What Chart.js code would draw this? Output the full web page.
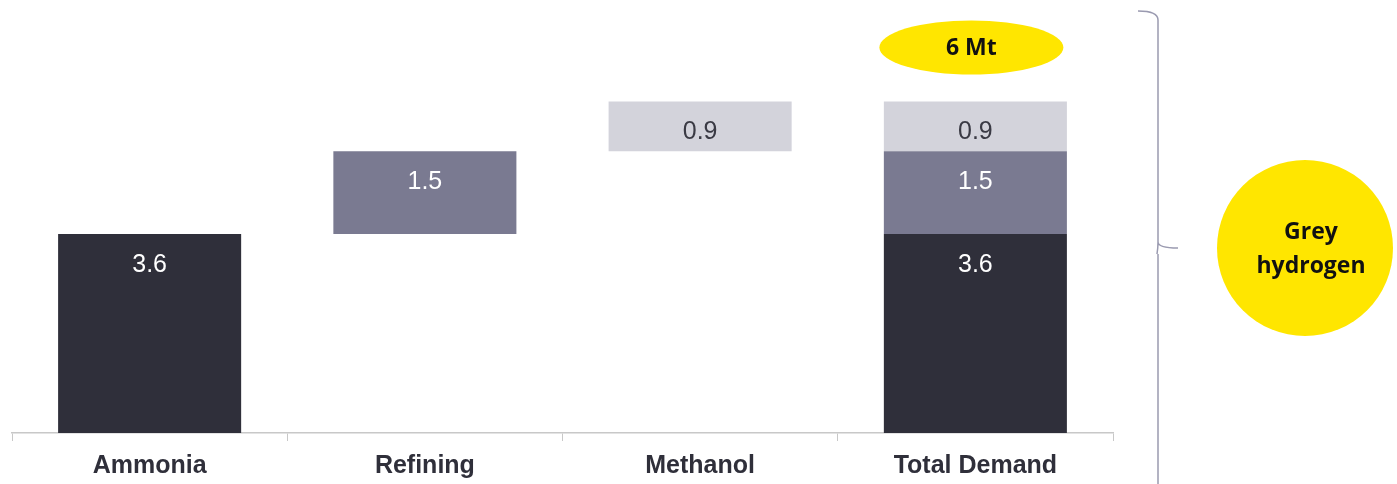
<!DOCTYPE html>
<html>
<head>
<meta charset="utf-8">
<script src="https://cdn.jsdelivr.net/npm/chart.js@4"></script>
<style>
  html, body { margin: 0; padding: 0; background: #ffffff; }
  #wrap { width: 1397px; height: 484px; position: relative; }
</style>
</head>
<body>
<div id="wrap"><canvas id="barChart" width="1397" height="484"></canvas></div>
<script>
// kategori sumbu x
const categories = ['Ammonia', 'Refining', 'Methanol', 'Total Demand'];
// nilai tiap sumber (Mt)
const sourceValues = [3.6, 1.5, 0.9];
const sourceColors = ['#2f2f3a', '#7a7a91', '#d3d3db'];
const labelColors = ['#ffffff', '#ffffff', '#3a3a44'];
const totalText = '6 Mt';
const bubbleLines = ['Grey', 'hydrogen'];

// bangun dataset waterfall: setiap sumber muncul di kolomnya sendiri dan di kolom total
let base = 0;
const datasets = sourceValues.map((value, i) => {
    const start = base;
    const end = +(base + value).toFixed(2);
    base = end;
    const data = categories.map((c, j) => (j === i || j === categories.length - 1) ? [start, end] : null);
    return {
        label: categories[i],
        data: data,
        backgroundColor: sourceColors[i],
        borderWidth: 0,
        grouped: false,
        barPercentage: 0.665,
        categoryPercentage: 1.0,
        valueText: value.toFixed(1),
        textColor: labelColors[i]
    };
});

const calloutFont = 'bold 23px "Open Sans", "Liberation Sans", sans-serif';

// plugin untuk label nilai dan anotasi
const overlayPlugin = {
    id: 'overlay',
    afterDatasetsDraw(chart) {
        const ctx = chart.ctx;
        ctx.save();
        ctx.font = '25px "Liberation Sans", Arial, sans-serif';
        ctx.textAlign = 'center';
        ctx.textBaseline = 'middle';
        chart.data.datasets.forEach((ds, i) => {
            chart.getDatasetMeta(i).data.forEach((bar, j) => {
                if (!ds.data[j]) return;
                ctx.fillStyle = ds.textColor;
                ctx.fillText(ds.valueText, bar.x, bar.y + 31);
            });
        });
        ctx.restore();
    },
    afterDraw(chart) {
        const ctx = chart.ctx;
        const x = chart.scales.x;
        const y = chart.scales.y;
        const area = chart.chartArea;
        ctx.save();

        // elips total di atas kolom total
        const cx = x.getPixelForValue(categories.length - 1) - 4;
        const cy = y.getPixelForValue(base) - 54;
        ctx.fillStyle = '#ffe600';
        ctx.beginPath();
        ctx.ellipse(cx, cy, 92, 27, 0, 0, Math.PI * 2);
        ctx.fill();
        ctx.fillStyle = '#111111';
        ctx.font = calloutFont;
        ctx.textAlign = 'center';
        ctx.textBaseline = 'middle';
        ctx.fillText(totalText, cx, cy + 1);

        // kurung kurawal
        const bx = area.right + 45;
        const midY = 248;
        ctx.strokeStyle = '#9a9ab0';
        ctx.lineWidth = 1.5;
        ctx.beginPath();
        ctx.moveTo(bx - 20, 11);
        ctx.quadraticCurveTo(bx, 11, bx, 20);
        ctx.lineTo(bx, midY - 6);
        ctx.quadraticCurveTo(bx, midY, bx + 20, midY);
        ctx.moveTo(bx, midY - 6);
        ctx.quadraticCurveTo(bx, midY, bx - 1, midY + 6);
        ctx.moveTo(bx, midY + 6);
        ctx.lineTo(bx, chart.height + 5);
        ctx.stroke();

        // lingkaran grey hydrogen
        const gx = 1305, gy = 248;
        ctx.fillStyle = '#ffe600';
        ctx.beginPath();
        ctx.arc(gx, gy, 88, 0, Math.PI * 2);
        ctx.fill();
        ctx.fillStyle = '#111111';
        ctx.fillText(bubbleLines[0], gx + 6, gy - 16);
        ctx.fillText(bubbleLines[1], gx + 6, gy + 18);
        ctx.restore();
    }
};

const ctx = document.getElementById('barChart').getContext('2d');
const barChart = new Chart(ctx, {
    type: 'bar',
    data: {
        labels: categories,
        datasets: datasets
    },
    options: {
        responsive: false,
        devicePixelRatio: 1,
        animation: false,
        layout: {
            padding: { left: 12, right: 284, top: 2, bottom: -8 }
        },
        scales: {
            x: {
                grid: {
                    offset: true,
                    drawOnChartArea: false,
                    drawTicks: true,
                    tickLength: 8,
                    color: '#c8c8c8'
                },
                border: { color: '#c8c8c8', width: 1.5 },
                ticks: {
                    color: '#2f2f3a',
                    padding: 13,
                    font: { family: '"Liberation Sans", Arial, sans-serif', size: 25, weight: 'bold', lineHeight: 1.0 }
                }
            },
            y: {
                display: false,
                min: 0,
                max: 7.8
            }
        },
        plugins: {
            legend: { display: false },
            tooltip: { enabled: false }
        }
    },
    plugins: [overlayPlugin]
});
</script>
</body>
</html>
